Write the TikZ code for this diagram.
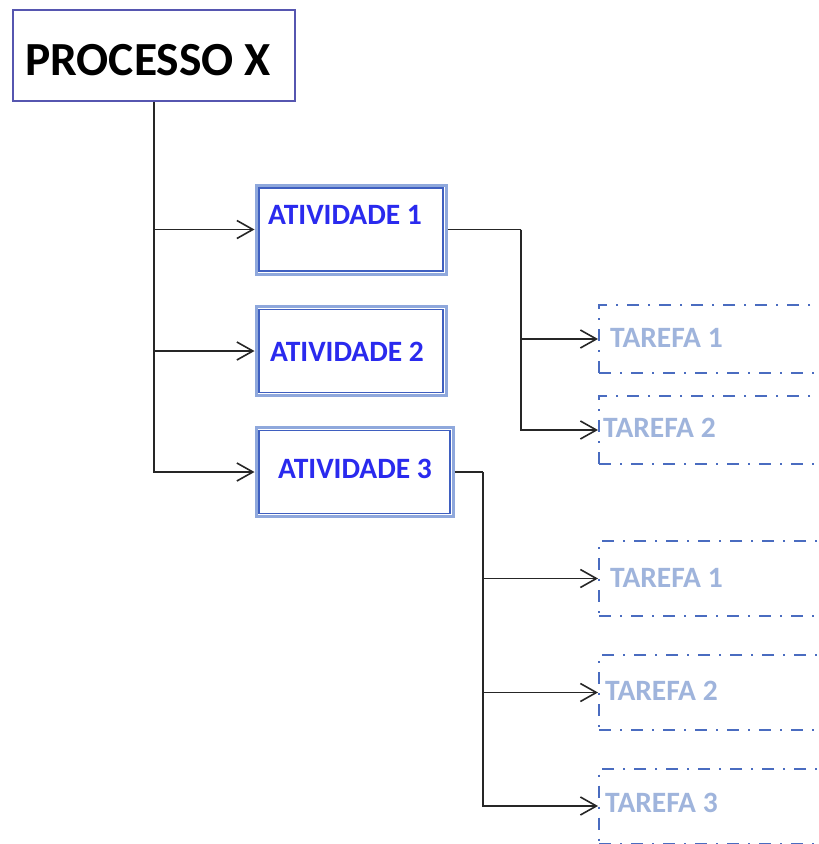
\documentclass[tikz,border=0pt]{standalone}
\usepackage{fontspec}
\setmainfont{Carlito}
\usetikzlibrary{arrows.meta}
\definecolor{pborder}{HTML}{5656B0}
\definecolor{aout}{HTML}{8FA8DC}
\definecolor{ain}{HTML}{3F5FC0}
\definecolor{atxt}{HTML}{2A2AEE}
\definecolor{tborder}{HTML}{4A6CC0}
\definecolor{ttxt}{HTML}{9FB4DC}
\definecolor{conn}{HTML}{262626}
\tikzset{
  procbox/.style={draw=pborder, line width=1.5pt, minimum width=282pt, minimum height=91pt, inner sep=0pt},
  atvbox/.style={draw=aout, line width=3pt, minimum height=89pt, inner sep=0pt},
  atvinner/.style={draw=ain, line width=1.5pt},
  tarbox/.style={draw=tborder, line width=2pt, dash pattern=on 12pt off 9pt on 2pt off 9pt, minimum width=242pt, inner sep=0pt},
  atvtext/.style={anchor=base west, inner sep=0pt, text=atxt, font=\fontsize{29.5}{32}\selectfont\bfseries},
  tartext/.style={anchor=base west, inner sep=0pt, text=ttxt, font=\fontsize{29.5}{32}\selectfont\bfseries},
  conn/.style={draw=conn, line width=1.6pt},
  arr/.style={conn, -{Straight Barb[length=16pt,width=18pt,line width=1.6pt]}},
}
\begin{document}
\begin{tikzpicture}[x=1pt,y=-1pt]
\useasboundingbox[fill=white] (0,0) rectangle (819,844);
% main process
\node[procbox] (p) at (154,55.5) {};
\node[anchor=base west, inner sep=0pt, font=\fontsize{47.5}{50}\selectfont\bfseries] (pt) at (25,75) {PROCESSO X};
% activities
\node[atvbox, minimum width=190pt] (a1) at (351,229.5) {};
\draw[atvinner] ([shift={(4.5pt,4.5pt)}]a1.south west) rectangle ([shift={(-4.5pt,-4.5pt)}]a1.north east);
\node[atvbox, minimum width=190pt] (a2) at (351,351) {};
\draw[atvinner] ([shift={(4.5pt,4.5pt)}]a2.south west) rectangle ([shift={(-4.5pt,-4.5pt)}]a2.north east);
\node[atvbox, minimum width=197pt] (a3) at (354.5,472) {};
\draw[atvinner] ([shift={(4.5pt,4.5pt)}]a3.south west) rectangle ([shift={(-4.5pt,-4.5pt)}]a3.north east);
\node[atvtext] (a1t) at (268,224) {ATIVIDADE 1};
\node[atvtext] (a2t) at (270,361) {ATIVIDADE 2};
\node[atvtext] (a3t) at (278,478) {ATIVIDADE 3};
% tasks
\node[tarbox, minimum height=68pt, anchor=west] (t11) at (598,339) {};
\node[tarbox, minimum height=68pt, anchor=west] (t12) at (598,430) {};
\node[tarbox, minimum height=75pt, anchor=west] (t31) at (598,578.5) {};
\node[tarbox, minimum height=75pt, anchor=west] (t32) at (598,692.5) {};
\node[tarbox, minimum height=75pt, anchor=west] (t33) at (598,806) {};
\node[tartext] (t11t) at (610,347) {TAREFA 1};
\node[tartext] (t12t) at (603,437) {TAREFA 2};
\node[tartext] (t31t) at (610,587) {TAREFA 1};
\node[tartext] (t32t) at (605,700) {TAREFA 2};
\node[tartext] (t33t) at (605,812) {TAREFA 3};
% connectors
\draw[arr] (p.south) |- (a1.west);
\draw[arr] (p.south) |- (a2.west);
\draw[arr] (p.south) |- (a3.west);
\coordinate (j1) at (521,229.5);
\coordinate (j3) at (483,472);
\draw[conn] (a1.east) -- (j1);
\draw[arr] (j1) |- (t11.west);
\draw[arr] (j1) |- (t12.west);
\draw[conn] (a3.east) -- (j3);
\draw[arr] (j3) |- (t31.west);
\draw[arr] (j3) |- (t32.west);
\draw[arr] (j3) |- (t33.west);
\end{tikzpicture}
\end{document}
